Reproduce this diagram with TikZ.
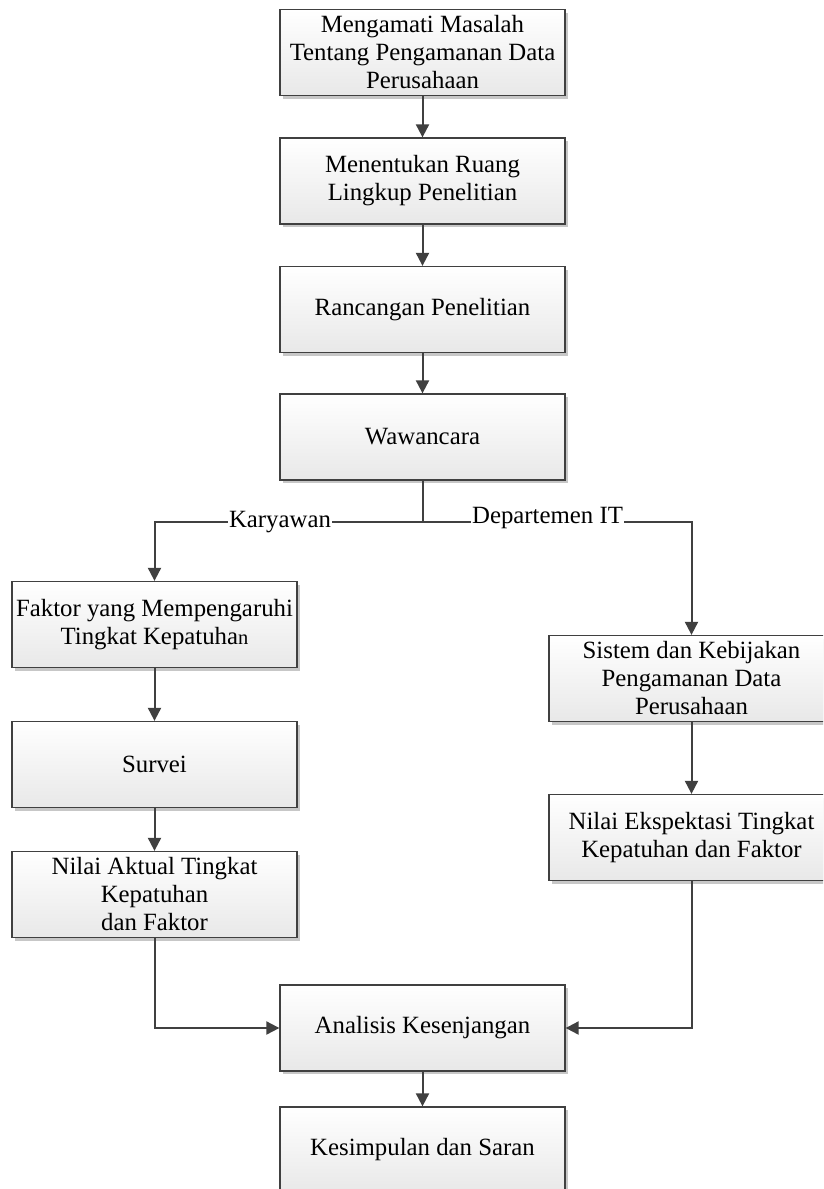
\documentclass[tikz,border=0pt]{standalone}
\usepackage{fontspec}
\setmainfont{Liberation Serif}
\usetikzlibrary{arrows.meta,shadows}
\definecolor{edge}{HTML}{404040}
\begin{document}
\begin{tikzpicture}[x=1pt,y=-1pt,
  box/.style={draw=edge, line width=1.3pt, top color=white, bottom color=black!9,
    minimum width=285pt, minimum height=86pt, inner sep=0pt, align=center,
    font=\fontsize{24.8}{28}\selectfont,
    drop shadow={shadow xshift=3pt, shadow yshift=-3pt, fill=black!22, opacity=1}},
  arr/.style={draw=edge, line width=2pt, -{Triangle[length=13pt,width=13pt]}},
  ln/.style={draw=edge, line width=2pt},
  lbl/.style={fill=white, inner sep=1pt, font=\fontsize{24.8}{28}\selectfont}]
\path[use as bounding box, clip] (0,0) rectangle (823,1189);
\fill[white] (0,0) rectangle (823,1189);

\node[box] (b1) at (422.5,52.5) {Mengamati Masalah\\Tentang Pengamanan Data\\Perusahaan};
\node[box] (b2) at (422.5,181) {Menentukan Ruang\\Lingkup Penelitian};
\node[box] (b3) at (422.5,309.5) {Rancangan Penelitian};
\node[box] (b4) at (422.5,437) {Wawancara};
\node[box] (b5) at (154.5,624.5) {Faktor yang Mempengaruhi\\Tingkat Kepatuha{\fontsize{20.5}{24}\selectfont n}};
\node[box] (b6) at (154.5,764.5) {Survei};
\node[box] (b7) at (154.5,894.5) {Nilai Aktual Tingkat\\Kepatuhan\\dan Faktor};
\node[box] (r1) at (691.5,678.5) {Sistem dan Kebijakan\\Pengamanan Data\\Perusahaan};
\node[box] (r2) at (691.5,837.5) {Nilai Ekspektasi Tingkat\\Kepatuhan dan Faktor};
\node[box] (b8) at (422.5,1028) {Analisis Kesenjangan};
\node[box] (b9) at (422.5,1150) {Kesimpulan dan Saran};

\coordinate (split) at (422.5,522);
\coordinate (lc) at (154.5,522);
\coordinate (rc) at (691.5,522);

\draw[arr] (b1) -- (b2);
\draw[arr] (b2) -- (b3);
\draw[arr] (b3) -- (b4);
\draw[ln] (b4.south) -- (split);
\draw[arr] (split) -- (lc) -- (b5.north);
\draw[arr] (split) -- (rc) -- (r1.north);
\draw[arr] (b5) -- (b6);
\draw[arr] (b6) -- (b7);
\draw[arr] (r1) -- (r2);
\draw[arr] (b7.south) |- (b8.west);
\draw[arr] (r2.south) |- (b8.east);
\draw[arr] (b8) -- (b9);

\node[lbl, anchor=base] (kary) at (280,527) {Karyawan};
\node[lbl, anchor=base] (dept) at (547.5,523) {Departemen IT};
\end{tikzpicture}
\end{document}
